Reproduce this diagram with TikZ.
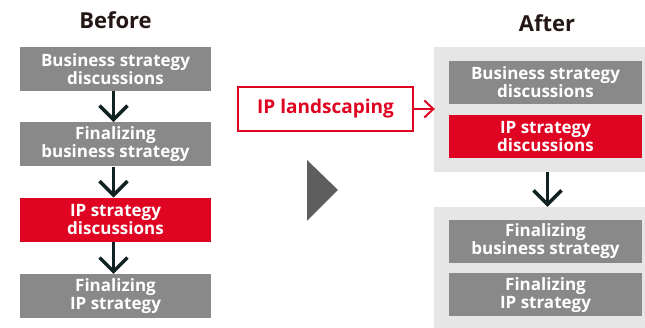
\documentclass[tikz,border=0pt]{standalone}
\usepackage{fontspec}
\setmainfont{Open Sans}
\usetikzlibrary{arrows.meta, positioning, backgrounds}
\definecolor{ipgray}{RGB}{137,137,137}
\definecolor{ipred}{RGB}{223,4,34}
\definecolor{ipbg}{RGB}{230,230,230}
\definecolor{iptext}{RGB}{35,24,21}
\definecolor{iparrow}{RGB}{18,34,34}
\definecolor{iptri}{RGB}{94,94,94}
\tikzset{
  stepbox/.style={
    rectangle, fill=ipgray, text=white, minimum width=191pt, minimum height=44pt,
    inner sep=0pt, align=center, font=\bfseries\fontsize{17}{18}\selectfont
  },
  redbox/.style={stepbox, fill=ipred},
  groupbox/.style={rectangle, fill=ipbg, draw=none, inner sep=0pt},
  landbox/.style={
    rectangle, draw=ipred, line width=2pt, fill=white, text=ipred,
    minimum width=175pt, minimum height=44pt, inner sep=0pt,
    font=\bfseries\fontsize{19}{20}\selectfont
  },
  titlelabel/.style={font=\bfseries\fontsize{22}{24}\selectfont, text=iptext},
  downflow/.style={-{Straight Barb[length=14pt, width=28pt, line width=3.5pt]}, line width=3.5pt, draw=iparrow},
  redflow/.style={-{Straight Barb[length=9pt, width=17pt, line width=2pt]}, line width=2pt, draw=ipred}
}
\begin{document}
\begin{tikzpicture}[x=1pt, y=1pt]
\useasboundingbox (0,0) rectangle (645,328);

% Before
\node[titlelabel] (before) at (115.5,308) {Before};
\node[stepbox] (bbizdisc) at (115.5,259) {Business strategy\\discussions};
\node[stepbox, below=31pt of bbizdisc] (bbizfin) {Finalizing\\business strategy};
\node[redbox, below=31pt of bbizfin] (bipdisc) {IP strategy\\discussions};
\node[stepbox, below=32pt of bipdisc] (bipfin) {Finalizing\\IP strategy};

\draw[downflow] ([xshift=-2pt]bbizdisc.south) -- ([xshift=-2pt]bbizfin.north);
\draw[downflow] ([xshift=-2pt]bbizfin.south) -- ([xshift=-2pt]bipdisc.north);
\draw[downflow] ([xshift=-2pt]bipdisc.south) -- ([xshift=-2pt]bipfin.north);

% middle
\node[landbox] (landscape) at (325.5,219) {IP landscaping};
\fill[iptri] (307,168) -- (338,138) -- (307,107) -- cycle;

% After
\node[titlelabel] (after) at (547,305) {After};
\node[groupbox, minimum width=211pt, minimum height=125pt] (grptop) at (539.5,218.5) {};
\node[groupbox, minimum width=211pt, minimum height=121pt] (grpbot) at (539.5,60.5) {};
\node[stepbox, minimum width=193pt, minimum height=43pt] (abizdisc) at (545.5,245.5) {Business strategy\\discussions};
\node[redbox, minimum width=193pt, minimum height=43pt, below=11pt of abizdisc] (aipdisc) {IP strategy\\discussions};
\node[stepbox, minimum width=193pt, minimum height=43pt] (abizfin) at (545.5,86.5) {Finalizing\\business strategy};
\node[stepbox, minimum width=193pt, minimum height=43pt, below=10pt of abizfin] (aipfin) {Finalizing\\IP strategy};

\draw[downflow] ([xshift=2pt]aipdisc.south |- grptop.south) -- ([xshift=2pt]aipdisc.south |- grpbot.north);
\draw[redflow] (landscape.east) -- ([xshift=1pt]landscape.east -| grptop.west);

\end{tikzpicture}
\end{document}
